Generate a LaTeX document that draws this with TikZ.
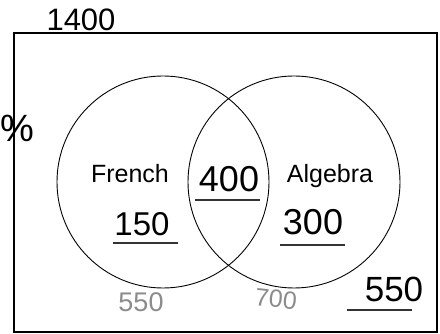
\documentclass[tikz,border=0pt]{standalone}
\usepackage{fontspec}
\setmainfont{Liberation Sans}

\tikzset{
	label/.style={font=\fontsize{25}{25}\selectfont, inner sep=0pt},
	hand/.style={font=\fontsize{36}{36}\selectfont, inner sep=0pt},
	faint/.style={font=\fontsize{27}{27}\selectfont, inner sep=0pt, text=black!45},
	uline/.style={line width=1.3pt, black!80}
}

\begin{document}
\begin{tikzpicture}[x=1pt, y=-1pt]
			\useasboundingbox (0,0) rectangle (440,334);
			\fill[white] (0,0) rectangle (440,334);
			% box and the two sets
			\draw[line width=1.4pt] (14,33) rectangle (437,332);
			\draw[line width=0.9pt] (163,182) circle (106pt);
			\draw[line width=0.9pt] (294,182) circle (106pt);
			% set names
			\node[label] (french)  at (130,174) {French};
			\node[label] (algebra) at (330,176) {Algebra};
			% counts
			\node[hand] (both)   at (229,179) {400};
			\node[hand, font=\fontsize{33}{33}\selectfont] (fronly) at (142,224) {150};
			\node[hand] (alonly) at (313,222) {300};
			\node[hand, font=\fontsize{35}{35}\selectfont] (none) at (394,289) {550};
			\node[hand, font=\fontsize{31}{31}\selectfont] (total) at (81,20) {1400};
			\node[hand, font=\fontsize{38}{38}\selectfont] (pct) at (17,128) {\%};
			\node[faint] (frtot) at (141,302) {550};
			\node[faint, font=\fontsize{25}{25}\selectfont, rotate=-6] (altot) at (276,299) {700};
			% underlines
			\draw[uline] (195,200) -- (260,200);
			\draw[uline] (113,243) -- (178,243);
			\draw[uline] (280,245) -- (345,245);
			\draw[uline] (347,310) -- (412,310);
		\end{tikzpicture}
\end{document}
